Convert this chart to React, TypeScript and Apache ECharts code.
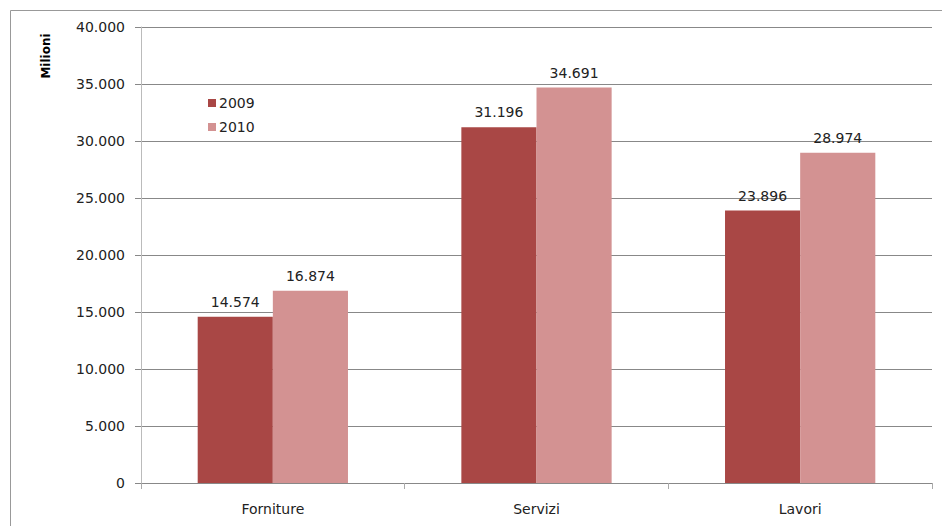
import React, { useEffect, useRef } from "react";
import * as echarts from "echarts";

const categories = ["Forniture", "Servizi", "Lavori"];
const values2009 = [14574, 31196, 23896];
const values2010 = [16874, 34691, 28974];
const seriesNames = ["2009", "2010"];
const yMin = 0;
const yMax = 40000;
const yInterval = 5000;

const fmt = (v: number) =>
  String(Math.round(v)).replace(/\B(?=(\d{3})+(?!\d))/g, ".");

const FONT = "DejaVu Sans";

export default function App() {
  const ref = useRef<HTMLDivElement>(null);
  useEffect(() => {
    if (!ref.current) return;
    const chart = echarts.init(ref.current, undefined, { renderer: "svg" });
    const labelStyle = {
      show: true,
      position: "top" as const,
      distance: 8,
      color: "#222",
      fontFamily: FONT,
      fontSize: 14,
      formatter: (p: any) => fmt(p.value),
    };
    chart.setOption({
      animation: false,
      backgroundColor: "#fff",
      textStyle: { fontFamily: FONT },
      grid: { left: 141, right: 10, top: 27, bottom: 43, containLabel: false },
      legend: {
        orient: "vertical",
        left: 203,
        top: 91,
        itemWidth: 8,
        itemHeight: 8,
        itemGap: 10,
        icon: "rect",
        textStyle: { fontFamily: FONT, fontSize: 14, color: "#222", padding: [0, 0, 0, -2] },
        data: seriesNames,
      },
      xAxis: {
        type: "category",
        data: categories,
        axisLine: { lineStyle: { color: "#888", width: 1 } },
        axisTick: { show: true, length: 6, alignWithLabel: false, lineStyle: { color: "#aaa" } },
        axisLabel: { color: "#222", fontFamily: FONT, fontSize: 14, margin: 19 },
      },
      yAxis: {
        type: "value",
        min: yMin,
        max: yMax,
        interval: yInterval,
        axisLine: { show: true, lineStyle: { color: "#bbb", width: 1 } },
        axisTick: { show: true, length: 6, lineStyle: { color: "#888" } },
        axisLabel: {
          color: "#222",
          fontFamily: FONT,
          fontSize: 14,
          margin: 16,
          formatter: (v: number) => fmt(v),
        },
        splitLine: { show: true, lineStyle: { color: "#888", width: 1 } },
      },
      series: [
        {
          name: seriesNames[0],
          type: "bar",
          data: values2009,
          barGap: "0%",
          barCategoryGap: "43%",
          itemStyle: { color: "#A94745" },
          label: labelStyle,
        },
        {
          name: seriesNames[1],
          type: "bar",
          data: values2010,
          barGap: "0%",
          barCategoryGap: "43%",
          itemStyle: { color: "#D39292" },
          label: labelStyle,
        },
      ],
      graphic: [
        {
          type: "rect",
          shape: { x: 10.5, y: 10.5, width: 1000, height: 1000 },
          style: { fill: "none", stroke: "#999", lineWidth: 1 },
          silent: true,
        },
        {
          type: "text",
          x: 46,
          y: 56,
          rotation: Math.PI / 2,
          style: {
            text: "Milioni",
            fontFamily: FONT,
            fontSize: 12,
            fontWeight: "bold",
            fill: "#000",
            align: "center",
            verticalAlign: "middle",
          },
        },
      ],
    });
    return () => chart.dispose();
  }, []);
  return (
    <div
      ref={ref}
      style={{ position: "fixed", left: 0, top: 0, width: 942, height: 526 }}
    />
  );
}
